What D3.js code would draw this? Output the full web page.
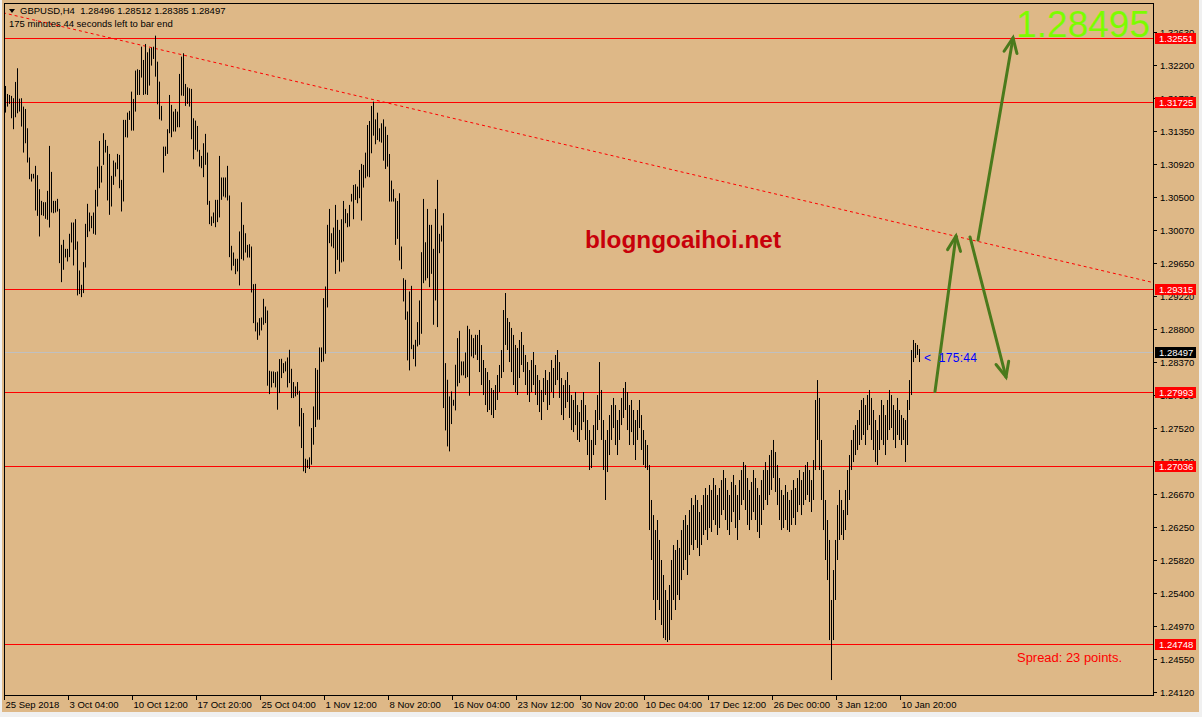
<!DOCTYPE html>
<html><head><meta charset="utf-8">
<script src="https://cdn.jsdelivr.net/npm/d3@7"></script>
<style>
body{margin:0;background:#f0f0f0;}
svg{display:block;}
text{font-family:"Liberation Sans",Arial,sans-serif;}
</style></head><body>
<svg id="chart" width="1202" height="717"></svg>
<script>
// H4 bars, high / low
const barHigh = [1.31930,1.31827,1.31814,1.31802,1.31772,1.31982,1.32158,1.31767,1.31772,1.31664,1.31634,1.31385,1.31008,1.30798,1.30798,1.30901,1.30781,1.30600,1.30450,1.30433,1.30433,1.30579,1.31158,1.30823,1.30450,1.30450,1.30476,1.30347,1.29884,1.29948,1.29832,1.29832,1.30026,1.30171,1.30171,1.30214,1.29927,1.29554,1.29369,1.29661,1.30154,1.30412,1.30300,1.30257,1.30300,1.30592,1.30892,1.31222,1.30901,1.31321,1.31235,1.31158,1.31055,1.30772,1.30969,1.30944,1.31055,1.31042,1.30720,1.31493,1.31493,1.31587,1.31609,1.31857,1.31763,1.32128,1.32145,1.32136,1.32436,1.32265,1.32471,1.32364,1.32415,1.32424,1.32436,1.32578,1.32243,1.31986,1.31673,1.31149,1.31149,1.31373,1.31814,1.31686,1.31600,1.31634,1.31600,1.32085,1.32308,1.32351,1.31956,1.31913,1.31900,1.31892,1.31514,1.31484,1.31415,1.31107,1.31029,1.31192,1.31313,1.31072,1.30450,1.30249,1.30300,1.30463,1.30463,1.31029,1.30751,1.30751,1.30751,1.30901,1.30519,1.29871,1.29785,1.29704,1.29704,1.30056,
1.30432,1.30141,1.30033,1.29883,1.29892,1.29862,1.29377,1.29381,1.28884,1.28939,1.28948,1.29188,1.29089,1.29038,1.28262,1.28253,1.28253,1.28244,1.28253,1.28412,1.28416,1.28360,1.28382,1.28433,1.28532,1.28287,1.28116,1.28060,1.28116,1.28004,1.27781,1.27717,1.27129,1.27116,1.27146,1.27524,1.27802,1.28296,1.28274,1.28562,1.28562,1.29197,1.29347,1.30141,1.30346,1.30033,1.30106,1.30398,1.30205,1.30076,1.30213,1.30449,1.30346,1.30291,1.30398,1.30540,1.30655,1.30664,1.30634,1.30848,1.30926,1.30913,1.31071,1.31427,1.31479,1.31672,1.31728,1.31500,1.31586,1.31385,1.31449,1.31500,1.31406,1.31299,1.31054,1.30711,1.30600,1.30484,1.30449,1.30548,1.29862,1.29454,1.29433,1.29025,1.29283,1.29355,1.28596,1.28660,1.28888,1.29167,1.29789,1.30475,1.29917,1.30346,1.30141,1.30141,1.29832,1.30346,1.30720,1.30025,1.30132,1.30291,1.28360,1.28146,1.27931,1.27996,1.27888,1.28339,1.28682,1.28776,1.28382,1.28382,1.28497,1.28841,1.28798,1.28725,1.28682,1.28725,
1.28723,1.28787,1.28593,1.28400,1.28297,1.28245,1.28142,1.28039,1.28014,1.28078,1.28207,1.28336,1.28529,1.29044,1.29263,1.28941,1.28890,1.28813,1.28723,1.28594,1.28555,1.28658,1.28761,1.28594,1.28465,1.28374,1.28271,1.28400,1.28503,1.28336,1.28207,1.28142,1.28014,1.28168,1.28271,1.28142,1.28245,1.28400,1.28297,1.28465,1.28529,1.28374,1.28168,1.28078,1.28142,1.28245,1.28078,1.27949,1.27885,1.27988,1.27820,1.27730,1.27885,1.27988,1.27820,1.27627,1.27498,1.27370,1.27562,1.27756,1.27949,1.28374,1.28014,1.27627,1.27370,1.27498,1.27691,1.27820,1.27911,1.27820,1.27627,1.27756,1.27911,1.28039,1.28117,1.27988,1.27820,1.27885,1.27756,1.27627,1.27756,1.27885,1.27691,1.27498,1.27370,1.27305,
1.27047,1.26597,1.26403,1.26210,1.26339,1.26082,1.25824,1.25631,1.25437,1.25309,1.25502,1.25824,1.26017,1.25953,1.26082,1.25979,1.26210,1.26339,1.26403,1.26275,1.26468,1.26623,1.26532,1.26661,1.26597,1.26442,1.26532,1.26661,1.26751,1.26661,1.26790,1.26726,1.26880,1.26790,1.26661,1.26751,1.26854,1.26983,1.26880,1.26726,1.26661,1.26829,1.26919,1.26790,1.26661,1.26854,1.26983,1.27086,1.27047,1.26880,1.26726,1.26829,1.26983,1.26880,1.26751,1.26661,1.26854,1.26983,1.27086,1.26983,1.27176,1.27241,1.27370,1.27215,1.27047,1.26880,1.26726,1.26661,1.26790,1.26700,1.26597,1.26726,1.26854,1.26751,1.26880,1.26983,1.26854,1.26957,1.27047,1.27086,1.26983,1.26854,1.27112,1.27885,1.28142,1.27911,1.27370,1.26983,1.26597,1.26339,1.26082,1.25309,1.25695,1.26082,1.26532,1.26726,1.26597,1.26468,1.26726,1.26983,1.27176,1.27370,1.27498,1.27562,1.27627,1.27756,1.27885,1.27911,1.27820,1.27949,1.28014,1.27911,1.27756,1.27627,1.27498,1.27691,1.27885,1.27820,1.27691,1.27885,1.28014,1.27949,1.27820,1.27756,1.27911,1.27756,1.27691,1.27653,1.27627,1.27885,1.28142,1.28529,1.28658,1.28619,1.28594,1.28542];
const barLow = [1.31587,1.31664,1.31699,1.31514,1.31373,1.31527,1.31578,1.31600,1.31407,1.31072,1.31192,1.30944,1.30729,1.30699,1.30738,1.30326,1.30257,1.29991,1.30266,1.30257,1.30219,1.30206,1.30107,1.30300,1.30291,1.30300,1.30313,1.29648,1.29403,1.29562,1.29721,1.29669,1.29725,1.29914,1.29618,1.29820,1.29232,1.29249,1.29210,1.29262,1.29592,1.29983,1.30056,1.30098,1.30026,1.30013,1.30377,1.30613,1.30686,1.30914,1.31072,1.30455,1.30270,1.30377,1.30656,1.30763,1.30858,1.30613,1.30313,1.30442,1.31270,1.31265,1.31493,1.31355,1.31355,1.31600,1.31814,1.31814,1.32038,1.31814,1.31823,1.31814,1.31935,1.32192,1.32278,1.32050,1.31694,1.31501,1.31484,1.30815,1.31029,1.31055,1.31321,1.31270,1.31343,1.31343,1.31398,1.31398,1.31806,1.31802,1.31673,1.31699,1.31664,1.31244,1.30986,1.31107,1.31085,1.30892,1.30871,1.30755,1.30914,1.30399,1.30150,1.30128,1.30163,1.30111,1.30176,1.30236,1.30463,1.30506,1.30493,1.30455,1.29725,1.29554,1.29614,1.29506,1.29541,1.29361,
1.29699,1.29682,1.29784,1.29720,1.29720,1.29270,1.28875,1.28768,1.28660,1.28716,1.28781,1.28854,1.28875,1.28069,1.27961,1.28047,1.28103,1.28047,1.27760,1.27974,1.28167,1.28231,1.28253,1.28047,1.28103,1.27910,1.27910,1.27931,1.27953,1.27545,1.27266,1.26966,1.26944,1.27009,1.26996,1.27052,1.27309,1.27537,1.27631,1.27631,1.28373,1.28382,1.28480,1.29077,1.29905,1.29862,1.29840,1.29510,1.29690,1.29540,1.29656,1.29669,1.30162,1.30110,1.30119,1.30441,1.30213,1.30462,1.30419,1.30484,1.30196,1.30621,1.30741,1.30763,1.30754,1.31063,1.31290,1.31179,1.31234,1.31213,1.31200,1.30968,1.30861,1.30891,1.30441,1.30441,1.30441,1.29883,1.29960,1.29682,1.29570,1.29154,1.28918,1.28395,1.28266,1.28540,1.28412,1.28317,1.28575,1.28596,1.28738,1.29390,1.29424,1.29454,1.29338,1.29510,1.28854,1.29167,1.28824,1.29776,1.29926,1.27781,1.27493,1.27287,1.27223,1.27575,1.27811,1.27751,1.28060,1.28103,1.28202,1.28202,1.28167,1.28180,1.27940,1.28446,1.28424,1.28467,
1.28400,1.28245,1.28078,1.27949,1.27820,1.27730,1.27756,1.27691,1.27653,1.27756,1.27885,1.27988,1.28168,1.28245,1.28594,1.28529,1.28374,1.28245,1.28078,1.27988,1.27949,1.28168,1.28336,1.28245,1.28078,1.27949,1.27859,1.27988,1.28078,1.27949,1.27820,1.27730,1.27627,1.27859,1.27949,1.27756,1.27820,1.27988,1.27911,1.28078,1.28142,1.27911,1.27691,1.27627,1.27782,1.27859,1.27653,1.27498,1.27472,1.27562,1.27370,1.27344,1.27498,1.27601,1.27370,1.27176,1.26983,1.27009,1.27176,1.27305,1.27498,1.27627,1.27370,1.26983,1.26597,1.26957,1.27176,1.27370,1.27524,1.27305,1.27176,1.27370,1.27562,1.27653,1.27756,1.27498,1.27305,1.27472,1.27305,1.27112,1.27370,1.27524,1.27241,1.27047,1.27009,1.26983,
1.26210,1.25824,1.25309,1.25051,1.25309,1.25180,1.24987,1.24819,1.24793,1.24768,1.24793,1.25051,1.25309,1.25180,1.25373,1.25309,1.25566,1.25695,1.25824,1.25631,1.25888,1.26017,1.25953,1.26082,1.25979,1.25875,1.26017,1.26146,1.26210,1.26082,1.26236,1.26185,1.26339,1.26275,1.26146,1.26236,1.26403,1.26468,1.26339,1.26210,1.26146,1.26313,1.26442,1.26236,1.26082,1.26339,1.26532,1.26597,1.26468,1.26275,1.26210,1.26339,1.26442,1.26339,1.26185,1.26107,1.26275,1.26468,1.26597,1.26532,1.26661,1.26726,1.26880,1.26700,1.26532,1.26339,1.26210,1.26236,1.26339,1.26210,1.26185,1.26275,1.26365,1.26275,1.26442,1.26532,1.26403,1.26532,1.26597,1.26661,1.26571,1.26442,1.26597,1.26983,1.27370,1.26983,1.26597,1.26210,1.25824,1.25566,1.24793,1.24278,1.24793,1.25309,1.25824,1.26082,1.26146,1.26082,1.26210,1.26403,1.26597,1.26983,1.27086,1.27176,1.27241,1.27305,1.27370,1.27434,1.27305,1.27498,1.27562,1.27370,1.27241,1.27086,1.27047,1.27241,1.27370,1.27305,1.27176,1.27370,1.27498,1.27524,1.27370,1.27266,1.27434,1.27370,1.27305,1.27370,1.27086,1.27305,1.27756,1.27949,1.28374,1.28426,1.28465,1.28374];
const levelLines = [1.32551, 1.31725, 1.29315, 1.27993, 1.27036, 1.24748];
const bidPrice = 1.28497;
const priceTicks = [1.32630, 1.32200, 1.31780, 1.31350, 1.30920, 1.30500, 1.30070, 1.29650, 1.29220, 1.28800, 1.28370, 1.27950, 1.27520, 1.27100, 1.26670, 1.26250, 1.25820, 1.25400, 1.24970, 1.24550, 1.24120];
const timeTicks = [0, 32, 64, 96, 128, 160, 192, 224, 256, 288, 320, 352, 384, 416, 448];
const timeLabels = ["25 Sep 2018", "3 Oct 04:00", "10 Oct 12:00", "17 Oct 20:00", "25 Oct 04:00", "1 Nov 12:00", "8 Nov 20:00", "16 Nov 04:00", "23 Nov 12:00", "30 Nov 20:00", "10 Dec 04:00", "17 Dec 12:00", "26 Dec 00:00", "3 Jan 12:00", "10 Jan 20:00"];
// dotted trend line through two bar/price points
const trendPoints = [[0, 1.32867], [185, 1.31749]];
// hand drawn arrows: [bar from, price from, bar to, price to]
const arrows = [[465, 1.27994, 475.5, 1.29997], [482.5, 1.29985, 500.5, 1.28181], [486.5, 1.29946, 504, 1.32548]];

const svg = d3.select("#chart");
const plotLeft = 4, plotRight = 1153, plotTop = 3, plotBottom = 695;

svg.append("rect").attr("x", 2).attr("y", 0).attr("width", 1197).attr("height", 712).attr("fill", "#deb887");

const x = d3.scaleLinear().domain([0, 574]).range([5, 1153]);
const y = d3.scaleLinear().domain([1.322, 1.2412]).range([65, 692.3]);

svg.append("clipPath").attr("id", "plotclip").append("rect")
  .attr("x", plotLeft).attr("y", plotTop).attr("width", plotRight - plotLeft).attr("height", plotBottom - plotTop);
const plot = svg.append("g").attr("clip-path", "url(#plotclip)");

// level lines
plot.selectAll("line.level").data(levelLines).enter().append("line")
  .attr("x1", plotLeft).attr("x2", plotRight)
  .attr("y1", d => Math.round(y(d)) + 0.5).attr("y2", d => Math.round(y(d)) + 0.5)
  .attr("stroke", "#ff0000").attr("stroke-width", 1);

plot.append("line").attr("x1", plotLeft).attr("x2", plotRight)
  .attr("y1", Math.round(y(bidPrice)) + 0.5).attr("y2", Math.round(y(bidPrice)) + 0.5)
  .attr("stroke", "#c0c0c0");

// trend line
const slope = (trendPoints[1][1] - trendPoints[0][1]) / (trendPoints[1][0] - trendPoints[0][0]);
plot.append("line")
  .attr("x1", x(-1)).attr("y1", y(trendPoints[0][1] - slope))
  .attr("x2", x(574)).attr("y2", y(trendPoints[0][1] + slope * 574))
  .attr("stroke", "#ff0000").attr("stroke-dasharray", "3,3");

// bars
plot.selectAll("line.bar").data(barHigh).enter().append("line")
  .attr("x1", (d, i) => Math.round(x(i)) + 0.5).attr("x2", (d, i) => Math.round(x(i)) + 0.5)
  .attr("y1", d => y(d)).attr("y2", (d, i) => y(barLow[i]))
  .attr("stroke", "#000").attr("stroke-width", 1);

// frame
svg.append("rect").attr("x", plotLeft + 0.5).attr("y", plotTop + 0.5)
  .attr("width", plotRight - plotLeft).attr("height", plotBottom - plotTop)
  .attr("fill", "none").attr("stroke", "#000");

// price axis
const yAxis = svg.append("g");
priceTicks.forEach(p => {
  const yy = Math.round(y(p)) + 0.5;
  yAxis.append("line").attr("x1", plotRight).attr("x2", plotRight + 4).attr("y1", yy).attr("y2", yy).attr("stroke", "#000");
  yAxis.append("text").attr("x", 1160).attr("y", yy + 3.5).attr("font-size", "9.5px").attr("fill", "#000").text(p.toFixed(5));
});

function priceTag(p, bg) {
  const yy = Math.round(y(p));
  yAxis.append("rect").attr("x", 1155).attr("y", yy - 5).attr("width", 41).attr("height", 11).attr("fill", bg);
  yAxis.append("text").attr("x", 1159).attr("y", yy + 4).attr("font-size", "9.5px").attr("fill", "#fff").text(p.toFixed(5));
}
levelLines.forEach(p => priceTag(p, "#ff0000"));
priceTag(bidPrice, "#000");

// time axis
timeTicks.forEach((t, k) => {
  const xx = Math.round(x(t)) - 0.5;
  svg.append("line").attr("x1", xx).attr("x2", xx).attr("y1", plotBottom).attr("y2", plotBottom + 5).attr("stroke", "#000");
  svg.append("text").attr("x", xx + 1).attr("y", 708).attr("font-size", "9.5px").attr("fill", "#000").text(timeLabels[k]);
});

// header
svg.append("path").attr("d", "M9,9 L15,9 L12,13 Z").attr("fill", "#000");
svg.append("text").attr("x", 20).attr("y", 14).attr("font-size", "9.5px").attr("fill", "#000")
  .attr("xml:space", "preserve").text("GBPUSD,H4  1.28496 1.28512 1.28385 1.28497");
svg.append("text").attr("x", 9).attr("y", 26.5).attr("font-size", "9.5px").attr("fill", "#000")
  .text("175 minutes 44 seconds left to bar end");

// arrows
const arrowG = svg.append("g").attr("stroke", "#4a7a1c").attr("stroke-width", 3).attr("stroke-linecap", "round").attr("fill", "none");
arrows.forEach(a => {
  const x0 = x(a[0]), y0 = y(a[1]), x1 = x(a[2]), y1 = y(a[3]);
  const ang = Math.atan2(y1 - y0, x1 - x0);
  const len = 16, spread = 0.42;
  arrowG.append("line").attr("x1", x0).attr("y1", y0).attr("x2", x1).attr("y2", y1);
  arrowG.append("path").attr("d",
    `M${x1 - len * Math.cos(ang - spread)},${y1 - len * Math.sin(ang - spread)} L${x1},${y1} L${x1 - len * Math.cos(ang + spread)},${y1 - len * Math.sin(ang + spread)}`);
});

// texts
svg.append("text").attr("x", 1150).attr("y", 37).attr("text-anchor", "end")
  .attr("font-size", "37px").attr("fill", "#7cfc00").text("1.28495");
svg.append("text").attr("x", 585).attr("y", 248)
  .attr("font-size", "24px").attr("font-weight", "bold").attr("fill", "#c8000a")
  .attr("textLength", 196).attr("lengthAdjust", "spacingAndGlyphs").text("blogngoaihoi.net");
svg.append("text").attr("x", 924).attr("y", 362).attr("font-size", "12px").attr("fill", "#0000ff")
  .attr("textLength", 53).attr("lengthAdjust", "spacing").attr("xml:space", "preserve").text("<  175:44");
svg.append("text").attr("x", 1017).attr("y", 662).attr("font-size", "12.5px").attr("fill", "#ff0000")
  .attr("textLength", 105).attr("lengthAdjust", "spacingAndGlyphs").text("Spread: 23 points.");
</script>
</body></html>
